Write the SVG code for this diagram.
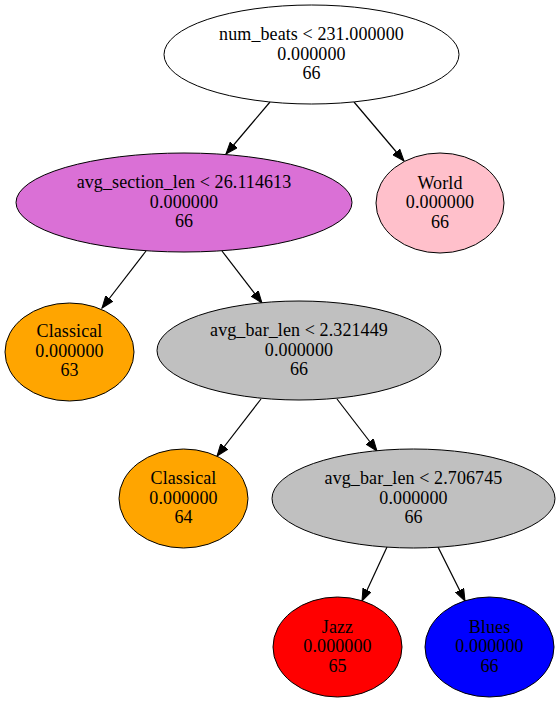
<svg xmlns="http://www.w3.org/2000/svg" width="560" height="702" viewBox="0 0 560 702">
<style>
.n ellipse{stroke:#000;stroke-width:1}
.n text{font-family:"Liberation Serif","Times New Roman",serif;font-size:18px;letter-spacing:0.1px;text-anchor:middle;fill:#000}
.e line{stroke:#000;stroke-width:1.2;marker-end:url(#ah)}
</style>
<defs>
<marker id="ah" markerUnits="userSpaceOnUse" markerWidth="13" markerHeight="10" refX="12" refY="4.5" orient="auto" viewBox="0 0 13 9">
<path d="M0,0 L12,4.5 L0,9 z" fill="#000" stroke="#000" stroke-width="1"/>
</marker>
</defs>
<rect width="560" height="702" fill="#fff"/>
<g class="e" id="edges">
<line x1="270" y1="102" x2="226" y2="154"/>
<line x1="354" y1="102" x2="404" y2="161"/>
<line x1="146" y1="251" x2="102" y2="308"/>
<line x1="222" y1="251" x2="262" y2="303"/>
<line x1="261" y1="399" x2="217" y2="456"/>
<line x1="337" y1="399" x2="377" y2="451"/>
<line x1="387" y1="547" x2="362" y2="601"/>
<line x1="438" y1="547" x2="465" y2="601"/>
</g>
<g class="n" id="n0">
<ellipse cx="311.5" cy="54.5" rx="147.5" ry="49.5" fill="#fff"/>
<text x="311.5" y="40">num_beats &lt; 231.000000</text>
<text x="311.5" y="59.5">0.000000</text>
<text x="311.5" y="79">66</text>
</g>
<g class="n" id="n1">
<ellipse cx="184" cy="202.5" rx="168" ry="49.5" fill="#da70d6"/>
<text x="184" y="188">avg_section_len &lt; 26.114613</text>
<text x="184" y="207.5">0.000000</text>
<text x="184" y="227">66</text>
</g>
<g class="n" id="n2">
<ellipse cx="440" cy="203" rx="64" ry="50" fill="#ffc0cb"/>
<text x="440" y="188.5">World</text>
<text x="440" y="208">0.000000</text>
<text x="440" y="227.5">66</text>
</g>
<g class="n" id="n3">
<ellipse cx="69.5" cy="352" rx="64.5" ry="49" fill="#ffa500"/>
<text x="69.5" y="337">Classical</text>
<text x="69.5" y="356.5">0.000000</text>
<text x="69.5" y="376">63</text>
</g>
<g class="n" id="n4">
<ellipse cx="299" cy="350.5" rx="142" ry="49.5" fill="#c0c0c0"/>
<text x="299" y="336">avg_bar_len &lt; 2.321449</text>
<text x="299" y="355.5">0.000000</text>
<text x="299" y="375">66</text>
</g>
<g class="n" id="n5">
<ellipse cx="183.5" cy="498.5" rx="64.5" ry="49.5" fill="#ffa500"/>
<text x="183.5" y="484">Classical</text>
<text x="183.5" y="503.5">0.000000</text>
<text x="183.5" y="523">64</text>
</g>
<g class="n" id="n6">
<ellipse cx="413.5" cy="498.5" rx="141.5" ry="49.5" fill="#c0c0c0"/>
<text x="413.5" y="484">avg_bar_len &lt; 2.706745</text>
<text x="413.5" y="503.5">0.000000</text>
<text x="413.5" y="523">66</text>
</g>
<g class="n" id="n7">
<ellipse cx="337.5" cy="647" rx="64.5" ry="50" fill="#ff0000"/>
<text x="337.5" y="632.5">Jazz</text>
<text x="337.5" y="652">0.000000</text>
<text x="337.5" y="671.5">65</text>
</g>
<g class="n" id="n8">
<ellipse cx="489.5" cy="647" rx="64.5" ry="50" fill="#0000ff"/>
<text x="489.5" y="632.5">Blues</text>
<text x="489.5" y="652">0.000000</text>
<text x="489.5" y="671.5">66</text>
</g>
</svg>
